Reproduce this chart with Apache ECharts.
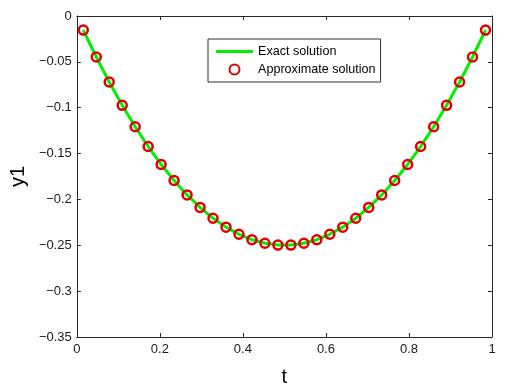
<!DOCTYPE html>
<html>
<head>
<meta charset="utf-8">
<script src="https://cdn.jsdelivr.net/npm/echarts@6/dist/echarts.min.js"></script>
<style>
html,body{margin:0;padding:0;background:#fff;}
#chart{width:513px;height:392px;}
</style>
</head>
<body>
<div id="chart"></div>
<script>
var tValues = [0.0156, 0.0469, 0.0781, 0.1094, 0.1406, 0.1719, 0.2031, 0.2344, 0.2656, 0.2969, 0.3281, 0.3594, 0.3906, 0.4219, 0.4531, 0.4844, 0.5156, 0.5469, 0.5781, 0.6094, 0.6406, 0.6719, 0.7031, 0.7344, 0.7656, 0.7969, 0.8281, 0.8594, 0.8906, 0.9219, 0.9531, 0.9844];
var exactValues = [-0.0154, -0.0447, -0.0720, -0.0974, -0.1208, -0.1423, -0.1619, -0.1794, -0.1951, -0.2087, -0.2205, -0.2302, -0.2380, -0.2439, -0.2478, -0.2498, -0.2498, -0.2478, -0.2439, -0.2380, -0.2302, -0.2205, -0.2087, -0.1951, -0.1794, -0.1619, -0.1423, -0.1208, -0.0974, -0.0720, -0.0447, -0.0154];
var approxValues = [-0.0154, -0.0447, -0.0720, -0.0974, -0.1208, -0.1423, -0.1619, -0.1794, -0.1951, -0.2087, -0.2205, -0.2302, -0.2380, -0.2439, -0.2478, -0.2498, -0.2498, -0.2478, -0.2439, -0.2380, -0.2302, -0.2205, -0.2087, -0.1951, -0.1794, -0.1619, -0.1423, -0.1208, -0.0974, -0.0720, -0.0447, -0.0154];
var seriesNames = ['Exact solution', 'Approximate solution'];
var xLabelName = 't';
var yLabelName = 'y1';

function pairs(xs, ys) { return xs.map(function (x, i) { return [x, ys[i]]; }); }
var FONT = "'Liberation Sans', Arial, sans-serif";
var AX = '#262626';
var GREEN = '#00ee00';
var RED = '#e00000';
function fmt(v) { return String(+v.toFixed(2)).replace('-', '\u2212'); }

var chart = echarts.init(document.getElementById('chart'), null, { renderer: 'canvas' });
chart.setOption({
  animation: false,
  backgroundColor: '#fff',
  grid: { left: 75, top: 16, right: 21, bottom: 45, containLabel: false },
  legend: {
    left: 208, top: 39,
    orient: 'vertical',
    backgroundColor: '#fff',
    borderColor: '#333', borderWidth: 1,
    padding: [6, 5, 6, 8],
    itemGap: 5,
    itemWidth: 37, itemHeight: 10,
    symbolKeepAspect: true,
    textStyle: { fontFamily: FONT, fontSize: 12.6, color: '#000' },
    data: [
      { name: seriesNames[0], icon: 'path://M0,0 L37,0 L37,3 L0,3 Z', itemStyle: { color: GREEN, borderWidth: 0 } },
      { name: seriesNames[1] }
    ]
  },
  xAxis: [{
    type: 'value', min: 0, max: 1, interval: 0.2, position: 'bottom',
    name: xLabelName, nameLocation: 'middle', nameGap: 30,
    nameTextStyle: { fontFamily: FONT, fontSize: 20, color: '#000' },
    axisLine: { show: true, onZero: false, lineStyle: { color: AX, width: 1 } },
    axisTick: { show: true, inside: true, length: 4, lineStyle: { color: AX } },
    axisLabel: { fontFamily: FONT, fontSize: 13, color: '#1a1a1a', margin: 6, formatter: fmt },
    splitLine: { show: false }
  }, {
    type: 'value', min: 0, max: 1, interval: 0.2, position: 'top',
    axisLine: { show: true, onZero: false, lineStyle: { color: AX, width: 1 } },
    axisTick: { show: true, inside: true, length: 4, lineStyle: { color: AX } },
    axisLabel: { show: false },
    splitLine: { show: false }
  }],
  yAxis: [{
    type: 'value', min: -0.35, max: 0, interval: 0.05, position: 'left',
    name: yLabelName, nameLocation: 'middle', nameGap: 38,
    nameTextStyle: { fontFamily: FONT, fontSize: 20, color: '#000' },
    axisLine: { show: true, onZero: false, lineStyle: { color: AX, width: 1 } },
    axisTick: { show: true, inside: true, length: 4, lineStyle: { color: AX } },
    axisLabel: { fontFamily: FONT, fontSize: 13, color: '#1a1a1a', margin: 5, formatter: fmt },
    splitLine: { show: false }
  }, {
    type: 'value', min: -0.35, max: 0, interval: 0.05, position: 'right',
    axisLine: { show: true, onZero: false, lineStyle: { color: AX, width: 1 } },
    axisTick: { show: true, inside: true, length: 4, lineStyle: { color: AX } },
    axisLabel: { show: false },
    splitLine: { show: false }
  }],
  series: [{
    name: seriesNames[0],
    type: 'line',
    data: pairs(tValues, exactValues),
    showSymbol: false, symbol: 'none',
    lineStyle: { color: GREEN, width: 3 },
    itemStyle: { color: GREEN },
    z: 2
  }, {
    name: seriesNames[1],
    type: 'scatter',
    data: pairs(tValues, approxValues),
    symbol: 'circle', symbolSize: 9,
    itemStyle: { color: 'rgba(255,255,255,0)', borderColor: RED, borderWidth: 2.5, opacity: 1 },
    z: 3
  }]
});
</script>
</body>
</html>
